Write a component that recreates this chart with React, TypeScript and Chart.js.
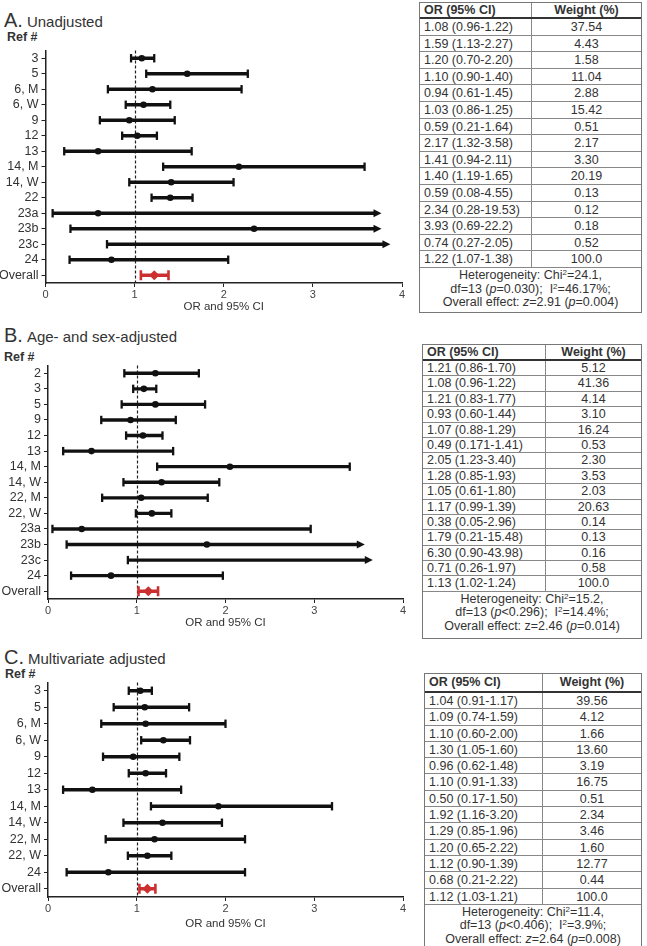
import React, { useEffect, useRef } from 'react';
import { Chart, registerables } from 'chart.js';

Chart.register(...registerables);

const FONT = "'Liberation Sans', Arial, Helvetica, sans-serif";
const INK = '#111111';
const RED = '#cc2f2f';
const TXT = '#333333';

// ---------- Panel A: Unadjusted ----------
const refsA = ['3', '5', '6, M', '6, W', '9', '12', '13', '14, M', '14, W', '22', '23a', '23b', '23c', '24', 'Overall'];
const orA = [1.08, 1.59, 1.2, 1.1, 0.94, 1.03, 0.59, 2.17, 1.41, 1.4, 0.59, 2.34, 3.93, 0.74, 1.22];
const loA = [0.96, 1.13, 0.7, 0.9, 0.61, 0.86, 0.21, 1.32, 0.94, 1.19, 0.08, 0.28, 0.69, 0.27, 1.07];
const hiA = [1.22, 2.27, 2.2, 1.4, 1.45, 1.25, 1.64, 3.58, 2.11, 1.65, 4.55, 19.53, 22.2, 2.05, 1.38];
const arrowA: (number | null)[] = [null, null, null, null, null, null, null, null, null, null, 3.77, 3.77, 3.87, null, null];
const ciTextA = ['1.08 (0.96-1.22)', '1.59 (1.13-2.27)', '1.20 (0.70-2.20)', '1.10 (0.90-1.40)', '0.94 (0.61-1.45)', '1.03 (0.86-1.25)', '0.59 (0.21-1.64)', '2.17 (1.32-3.58)', '1.41 (0.94-2.11)', '1.40 (1.19-1.65)', '0.59 (0.08-4.55)', '2.34 (0.28-19.53)', '3.93 (0.69-22.2)', '0.74 (0.27-2.05)', '1.22 (1.07-1.38)'];
const weightA = ['37.54', '4.43', '1.58', '11.04', '2.88', '15.42', '0.51', '2.17', '3.30', '20.19', '0.13', '0.12', '0.18', '0.52', '100.0'];
const hetA = ['24.1', '=0.030', '46.17%', '2.91', '=0.004'];

// ---------- Panel B: Age- and sex-adjusted ----------
const refsB = ['2', '3', '5', '9', '12', '13', '14, M', '14, W', '22, M', '22, W', '23a', '23b', '23c', '24', 'Overall'];
const orB = [1.21, 1.08, 1.21, 0.93, 1.07, 0.49, 2.05, 1.28, 1.05, 1.17, 0.38, 1.79, 6.3, 0.71, 1.13];
const loB = [0.86, 0.96, 0.83, 0.6, 0.88, 0.171, 1.23, 0.85, 0.61, 0.99, 0.05, 0.21, 0.9, 0.26, 1.02];
const hiB = [1.7, 1.22, 1.77, 1.44, 1.29, 1.41, 3.4, 1.93, 1.8, 1.39, 2.96, 15.48, 43.98, 1.97, 1.24];
const arrowB: (number | null)[] = [null, null, null, null, null, null, null, null, null, null, null, 3.57, 3.66, null, null];
const ciTextB = ['1.21 (0.86-1.70)', '1.08 (0.96-1.22)', '1.21 (0.83-1.77)', '0.93 (0.60-1.44)', '1.07 (0.88-1.29)', '0.49 (0.171-1.41)', '2.05 (1.23-3.40)', '1.28 (0.85-1.93)', '1.05 (0.61-1.80)', '1.17 (0.99-1.39)', '0.38 (0.05-2.96)', '1.79 (0.21-15.48)', '6.30 (0.90-43.98)', '0.71 (0.26-1.97)', '1.13 (1.02-1.24)'];
const weightB = ['5.12', '41.36', '4.14', '3.10', '16.24', '0.53', '2.30', '3.53', '2.03', '20.63', '0.14', '0.13', '0.16', '0.58', '100.0'];
const hetB = ['15.2', '<0.296', '14.4%', '2.46', '=0.014'];

// ---------- Panel C: Multivariate adjusted ----------
const refsC = ['3', '5', '6, M', '6, W', '9', '12', '13', '14, M', '14, W', '22, M', '22, W', '24', 'Overall'];
const orC = [1.04, 1.09, 1.1, 1.3, 0.96, 1.1, 0.5, 1.92, 1.29, 1.2, 1.12, 0.68, 1.12];
const loC = [0.91, 0.74, 0.6, 1.05, 0.62, 0.91, 0.17, 1.16, 0.85, 0.65, 0.9, 0.21, 1.03];
const hiC = [1.17, 1.59, 2.0, 1.6, 1.48, 1.33, 1.5, 3.2, 1.96, 2.22, 1.39, 2.22, 1.21];
const arrowC: (number | null)[] = [null, null, null, null, null, null, null, null, null, null, null, null, null];
const ciTextC = ['1.04 (0.91-1.17)', '1.09 (0.74-1.59)', '1.10 (0.60-2.00)', '1.30 (1.05-1.60)', '0.96 (0.62-1.48)', '1.10 (0.91-1.33)', '0.50 (0.17-1.50)', '1.92 (1.16-3.20)', '1.29 (0.85-1.96)', '1.20 (0.65-2.22)', '1.12 (0.90-1.39)', '0.68 (0.21-2.22)', '1.12 (1.03-1.21)'];
const weightC = ['39.56', '4.12', '1.66', '13.60', '3.19', '16.75', '0.51', '2.34', '3.46', '1.60', '12.77', '0.44', '100.0'];
const hetC = ['11.4', '<0.406', '3.9%', '2.64', '=0.008'];

const xTicks = [0, 1, 2, 3, 4];

type ForestProps = {
  refs: string[]; or: number[]; lo: number[]; hi: number[]; arrowTo: (number | null)[];
  left: number; top: number; width: number; height: number;
  yW: number; xH: number; padTop: number; padRight: number; titlePadBottom: number;
};

function Forest(p: ForestProps) {
  const ref = useRef<HTMLCanvasElement | null>(null);
  useEffect(() => {
    if (!ref.current) return;
    const n = p.refs.length;
    const colorOf = (i: number) => (i === n - 1 ? RED : INK);
    const endOf = (i: number) => (p.arrowTo[i] != null ? (p.arrowTo[i] as number) : p.hi[i]);
    const pts = p.or.map((v, i) => (v <= endOf(i) ? v : null));

    const plugin = {
      id: 'forestExtras',
      beforeDatasetsDraw(chart: any) {
        const { ctx, chartArea, scales } = chart;
        const x1 = Math.round(scales.x.getPixelForValue(1)) + 0.5;
        ctx.save();
        ctx.strokeStyle = '#222';
        ctx.lineWidth = 1.2;
        ctx.setLineDash([3, 2]);
        ctx.beginPath();
        ctx.moveTo(x1, chartArea.top);
        ctx.lineTo(x1, chartArea.bottom);
        ctx.stroke();
        ctx.restore();
      },
      afterDatasetsDraw(chart: any) {
        const { ctx, scales } = chart;
        const meta = chart.getDatasetMeta(0);
        ctx.save();
        for (let i = 0; i < n; i++) {
          const el = meta.data[i];
          if (!el) continue;
          const yc = el.y;
          const col = colorOf(i);
          const capH = i === n - 1 ? 5 : 4.2;
          ctx.strokeStyle = col;
          ctx.fillStyle = col;
          ctx.lineWidth = i === n - 1 ? 2.6 : 2.3;
          const xl = scales.x.getPixelForValue(p.lo[i]);
          ctx.beginPath();
          ctx.moveTo(xl, yc - capH);
          ctx.lineTo(xl, yc + capH);
          ctx.stroke();
          if (p.arrowTo[i] == null) {
            const xh = scales.x.getPixelForValue(p.hi[i]);
            ctx.beginPath();
            ctx.moveTo(xh, yc - capH);
            ctx.lineTo(xh, yc + capH);
            ctx.stroke();
          } else {
            const xt = scales.x.getPixelForValue(p.arrowTo[i] as number);
            ctx.beginPath();
            ctx.moveTo(xt, yc);
            ctx.lineTo(xt - 8, yc - 4);
            ctx.lineTo(xt - 8, yc + 4);
            ctx.closePath();
            ctx.fill();
          }
        }
        ctx.restore();
      },
    };

    const chart = new Chart(ref.current, {
      type: 'bar',
      data: {
        labels: p.refs,
        datasets: [
          {
            type: 'bar',
            data: p.refs.map((_, i) => [p.lo[i], p.arrowTo[i] != null ? (p.arrowTo[i] as number) - 6 / 89 : p.hi[i]]) as any,
            backgroundColor: p.refs.map((_, i) => colorOf(i)),
            barThickness: 2.7,
            borderWidth: 0,
            borderSkipped: false,
          } as any,
          {
            type: 'line',
            data: pts as any,
            showLine: false,
            pointStyle: p.refs.map((_, i) => (i === n - 1 ? 'rectRot' : 'circle')) as any,
            pointRadius: p.refs.map((_, i) => (i === n - 1 ? 5 : 3.3)) as any,
            pointBackgroundColor: p.refs.map((_, i) => colorOf(i)) as any,
            pointBorderColor: p.refs.map((_, i) => colorOf(i)) as any,
            pointBorderWidth: 0,
          } as any,
        ],
      },
      options: {
        indexAxis: 'y',
        animation: false,
        responsive: false,
        maintainAspectRatio: false,
        events: [],
        layout: { padding: { top: p.padTop, right: p.padRight, left: 0, bottom: 0 } },
        plugins: { legend: { display: false }, tooltip: { enabled: false }, title: { display: false } },
        scales: {
          y: {
            type: 'category',
            offset: true,
            grid: { display: true, offset: false, drawOnChartArea: false, drawTicks: true, tickLength: 4, color: '#222', lineWidth: 1 },
            border: { display: true, color: '#222', width: 1.5 },
            ticks: { color: TXT, font: { family: FONT, size: 12.5 }, padding: 3, autoSkip: false },
            afterFit: (s: any) => { s.width = p.yW; },
          },
          x: {
            type: 'linear',
            min: 0,
            max: 4,
            afterBuildTicks: (s: any) => { s.ticks = xTicks.map((v) => ({ value: v })); },
            grid: { display: true, drawOnChartArea: false, drawTicks: true, tickLength: 4, color: '#222', lineWidth: 1 },
            border: { display: true, color: '#222', width: 1.5 },
            ticks: { color: '#444', font: { family: FONT, size: 11 }, padding: 1 },
            title: { display: true, text: 'OR and 95% CI', color: TXT, font: { family: FONT, size: 11.5 }, padding: { top: 0, bottom: p.titlePadBottom } },
            afterFit: (s: any) => { s.height = p.xH; },
          },
        },
      } as any,
      plugins: [plugin],
    });
    return () => chart.destroy();
  }, []);
  return (
    <canvas
      ref={ref}
      width={p.width}
      height={p.height}
      style={{ position: 'absolute', left: p.left, top: p.top, width: p.width, height: p.height }}
    />
  );
}

type TableProps = {
  left: number; top: number; width: number; colW: number; headerH: number; rowH: number; footerH: number;
  ci: string[]; weights: string[]; het: string[]; italicZ: boolean;
};

function ResultTable(t: TableProps) {
  const sup = (s: string) => <span style={{ fontSize: 8, verticalAlign: 'top', lineHeight: '9px', position: 'relative', top: -1 }}>{s}</span>;
  const cell: React.CSSProperties = { height: t.rowH, lineHeight: `${t.rowH}px`, boxSizing: 'border-box', whiteSpace: 'nowrap' };
  return (
    <div style={{ position: 'absolute', left: t.left, top: t.top, width: t.width, boxSizing: 'border-box', border: '1px solid #777', fontFamily: FONT, fontSize: 12.5, color: TXT, background: '#fff' }}>
      <div style={{ display: 'flex', height: t.headerH, borderBottom: '2px solid #333', boxSizing: 'border-box', fontWeight: 'bold', lineHeight: `${t.headerH - 2}px` }}>
        <div style={{ width: t.colW, paddingLeft: 4, borderRight: '1px solid #888', boxSizing: 'border-box' }}>OR (95% CI)</div>
        <div style={{ flex: 1, textAlign: 'center' }}>Weight (%)</div>
      </div>
      {t.ci.map((c, i) => (
        <div key={i} style={{ display: 'flex', ...cell, borderBottom: '1px solid #888' }}>
          <div style={{ width: t.colW, paddingLeft: 4, borderRight: '1px solid #888', boxSizing: 'border-box' }}>{c}</div>
          <div style={{ flex: 1, textAlign: 'center' }}>{t.weights[i]}</div>
        </div>
      ))}
      <div style={{ height: t.footerH, boxSizing: 'border-box', textAlign: 'center', lineHeight: '13.6px', paddingTop: 1 }}>
        <div>Heterogeneity: Chi{sup('2')}={t.het[0]},</div>
        <div>df=13 (<i>p</i>{t.het[1]});&nbsp; I{sup('2')}={t.het[2]};</div>
        <div>Overall effect: {t.italicZ ? <i>z</i> : 'z'}={t.het[3]} (<i>p</i>{t.het[4]})</div>
      </div>
    </div>
  );
}

function PanelTitle({ letter, text, top, refTop, refLeft }: { letter: string; text: string; top: number; refTop: number; refLeft: number }) {
  return (
    <>
      <div style={{ position: 'absolute', left: 4, top, lineHeight: '24px', whiteSpace: 'nowrap', fontFamily: FONT, color: TXT }}>
        <span style={{ fontSize: 20 }}>{letter}.</span>
        <span style={{ fontSize: 15, marginLeft: 4 }}>{text}</span>
      </div>
      <div style={{ position: 'absolute', left: refLeft, top: refTop, lineHeight: '14px', fontFamily: FONT, fontWeight: 'bold', fontSize: 12.5, color: TXT }}>Ref #</div>
    </>
  );
}

export default function App() {
  useEffect(() => {
    document.body.style.margin = '0';
  }, []);
  return (
    <div style={{ position: 'absolute', left: 0, top: 0, width: 647, height: 946, background: '#fff', overflow: 'hidden' }}>
      <PanelTitle letter="A" text="Unadjusted" top={8} refTop={30} refLeft={7} />
      <Forest refs={refsA} or={orA} lo={loA} hi={hiA} arrowTo={arrowA}
        left={0} top={40} width={412} height={275} yW={45.5} xH={32} padTop={10} padRight={10} titlePadBottom={1} />
      <ResultTable left={419} top={2} width={223} colW={112} headerH={16} rowH={16.6} footerH={44}
        ci={ciTextA} weights={weightA} het={hetA} italicZ={true} />

      <PanelTitle letter="B" text="Age- and sex-adjusted" top={323} refTop={350} refLeft={4} />
      <Forest refs={refsB} or={orB} lo={loB} hi={hiB} arrowTo={arrowB}
        left={0} top={355} width={413} height={276} yW={48} xH={32} padTop={10} padRight={10} titlePadBottom={1} />
      <ResultTable left={422} top={344} width={220} colW={123} headerH={16} rowH={15.4} footerH={46}
        ci={ciTextB} weights={weightB} het={hetB} italicZ={false} />

      <PanelTitle letter="C" text="Multivariate adjusted" top={645} refTop={667} refLeft={5} />
      <Forest refs={refsC} or={orC} lo={loC} hi={hiC} arrowTo={arrowC}
        left={0} top={672} width={413} height={261} yW={48} xH={36} padTop={10} padRight={10} titlePadBottom={2} />
      <ResultTable left={424} top={673} width={218} colW={118} headerH={19} rowH={16.3} footerH={42}
        ci={ciTextC} weights={weightC} het={hetC} italicZ={true} />
    </div>
  );
}
